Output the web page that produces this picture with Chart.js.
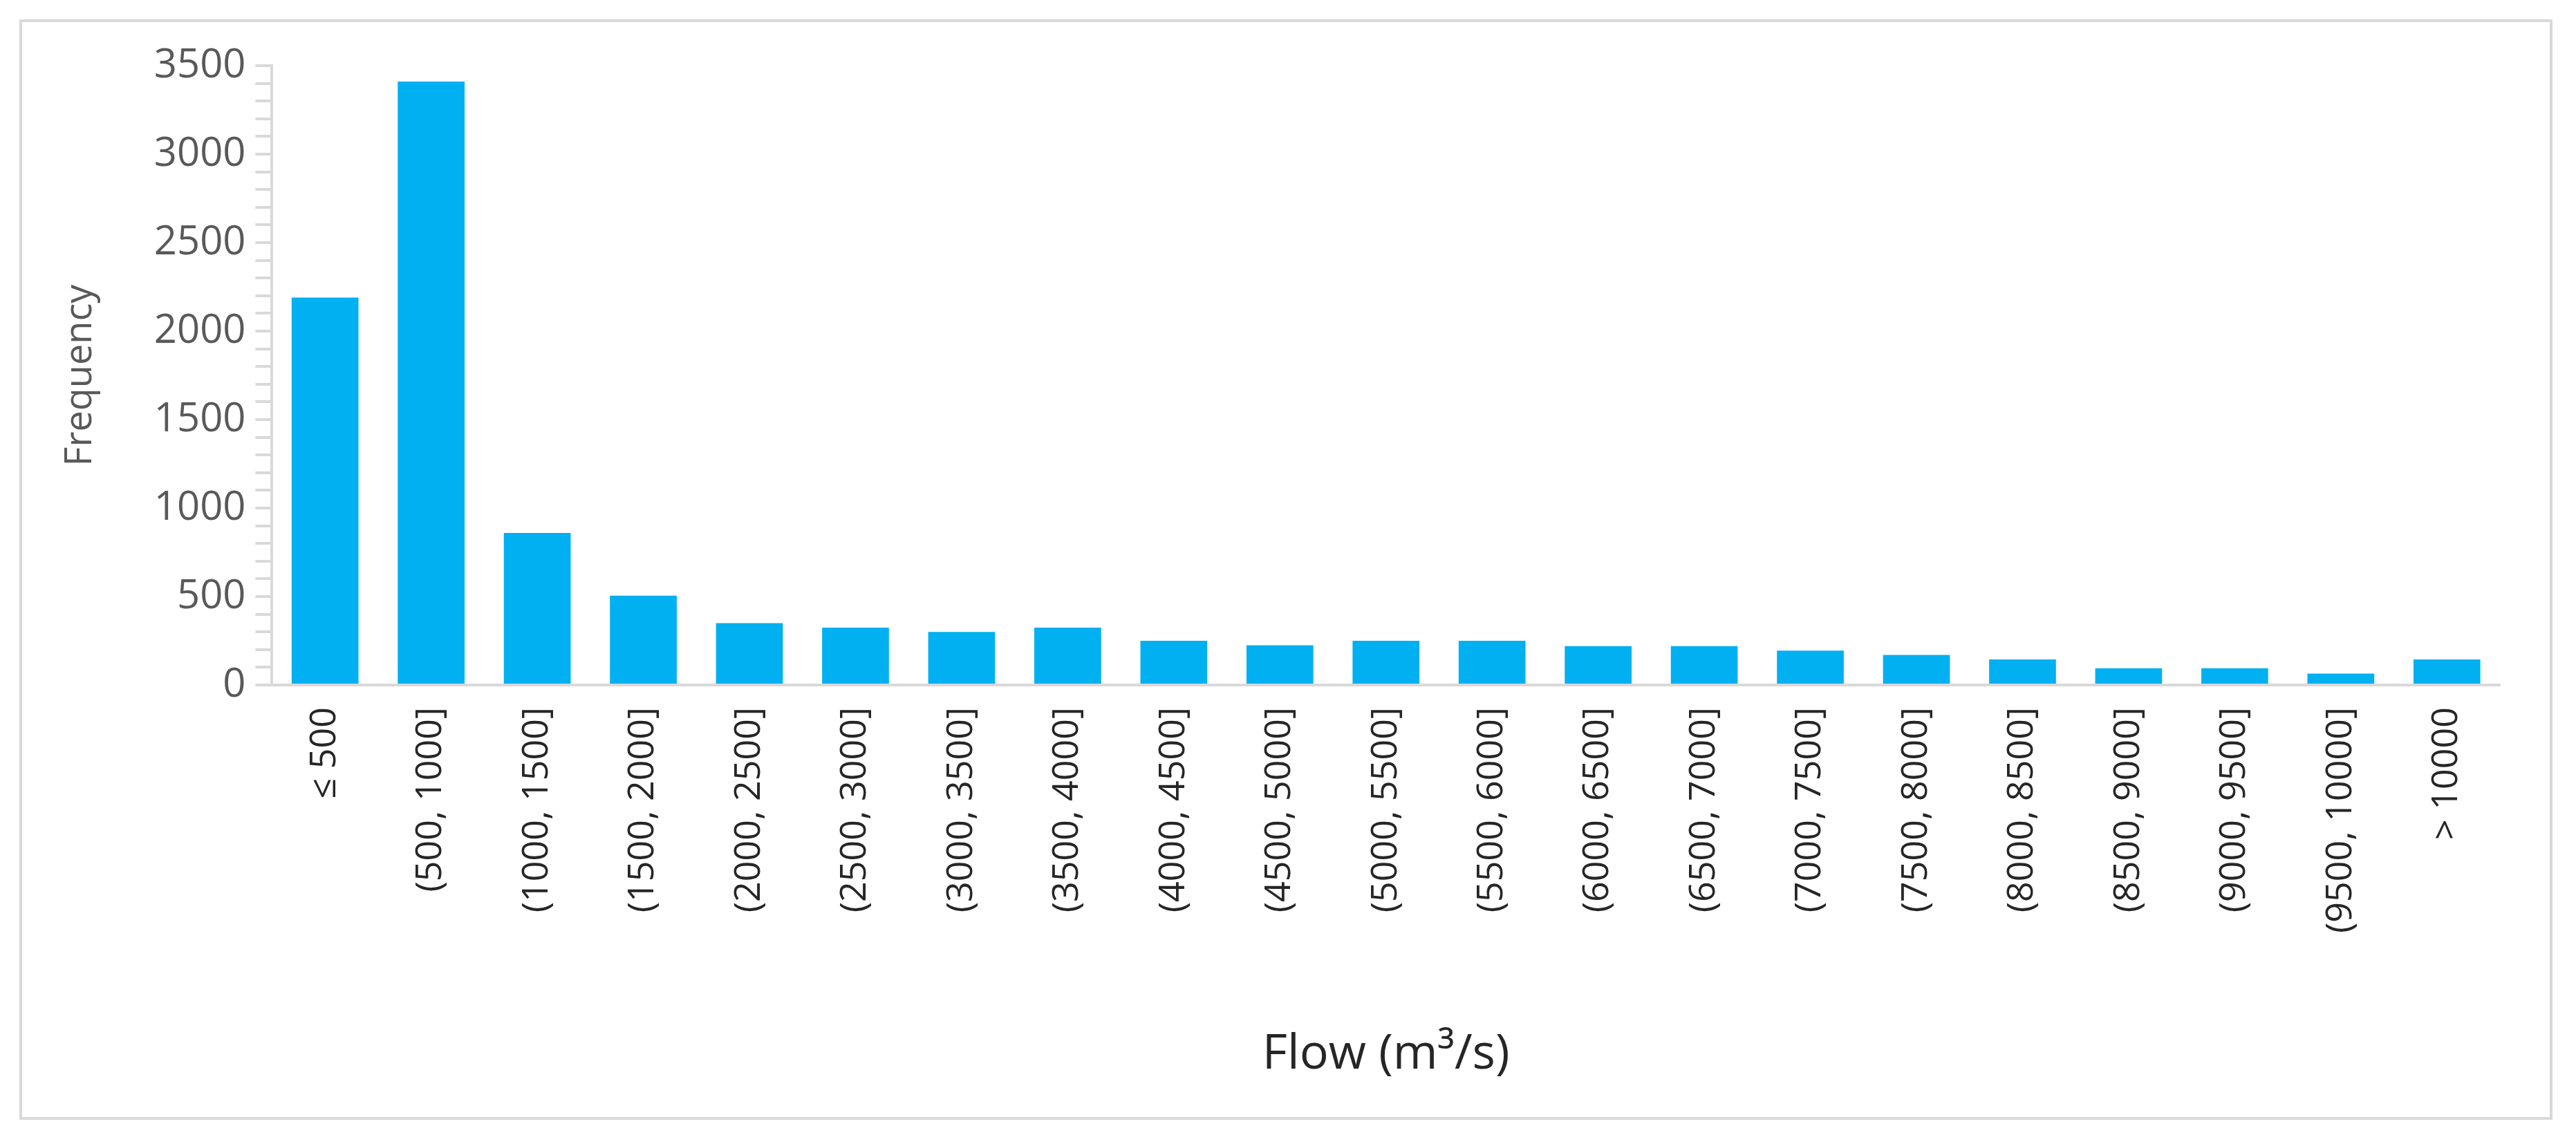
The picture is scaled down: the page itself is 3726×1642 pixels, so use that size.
<!DOCTYPE html>
<html>
<head>
<meta charset="utf-8">
<script src="https://cdn.jsdelivr.net/npm/chart.js@4"></script>
<style>
  html, body { margin: 0; background: #fff; }
  #wrap { position: absolute; left: 0; top: 0; width: 3726px; height: 1642px; }
  #frame { position: absolute; left: 28px; top: 28px; width: 3664px; height: 1592px; border: 4px solid #d9d9d9; box-sizing: border-box; }
</style>
</head>
<body>
<div id="wrap">
  <div id="frame"></div>
  <canvas id="graph" width="3726" height="1642"></canvas>
</div>
<script>
const categories = ["≤ 500", "(500, 1000]", "(1000, 1500]", "(1500, 2000]", "(2000, 2500]", "(2500, 3000]",
  "(3000, 3500]", "(3500, 4000]", "(4000, 4500]", "(4500, 5000]", "(5000, 5500]", "(5500, 6000]",
  "(6000, 6500]", "(6500, 7000]", "(7000, 7500]", "(7500, 8000]", "(8000, 8500]", "(8500, 9000]",
  "(9000, 9500]", "(9500, 10000]", "> 10000"];
const frequency = [2190, 3410, 860, 505, 350, 325, 300, 325, 250, 225, 250, 250, 220, 220, 195, 170, 145, 95, 95, 65, 145];

const ctx = document.getElementById("graph").getContext("2d");
new Chart(ctx, {
  type: "bar",
  data: {
    labels: categories,
    datasets: [{
      label: "Frequency",
      data: frequency,
      backgroundColor: "#00b0f0",
      barPercentage: 0.63,
      categoryPercentage: 1.0,
    }],
  },
  options: {
    responsive: false,
    devicePixelRatio: 1,
    animation: false,
    layout: { padding: { left: 80, right: 110, top: 95, bottom: 70 } },
    plugins: { legend: { display: false }, tooltip: { enabled: false } },
    scales: {
      x: {
        grid: { display: false },
        border: { color: "#d9d9d9", width: 4 },
        ticks: {
          color: "#262626",
          font: { family: "Open Sans", size: 52 },
          minRotation: 90, maxRotation: 90,
          padding: 24,
        },
        title: {
          display: true,
          text: "Flow (m³/s)",
          color: "#262626",
          font: { family: "Open Sans", size: 70 },
          padding: { top: 110 },
        },
      },
      y: {
        min: 0, max: 3500,
        grid: { drawOnChartArea: false, color: "#d9d9d9", tickLength: 24, lineWidth: 4 },
        border: { color: "#d9d9d9", width: 4 },
        ticks: {
          stepSize: 100,
          autoSkip: false,
          color: "#595959",
          font: { family: "Open Sans", size: 58 },
          padding: 14,
          callback: (v) => (v % 500 === 0 ? v : ""),
        },
        title: {
          display: true,
          text: "Frequency",
          color: "#595959",
          font: { family: "Open Sans", size: 54 },
          padding: { bottom: 60 },
        },
      },
    },
  },
});
</script>
</body>
</html>
